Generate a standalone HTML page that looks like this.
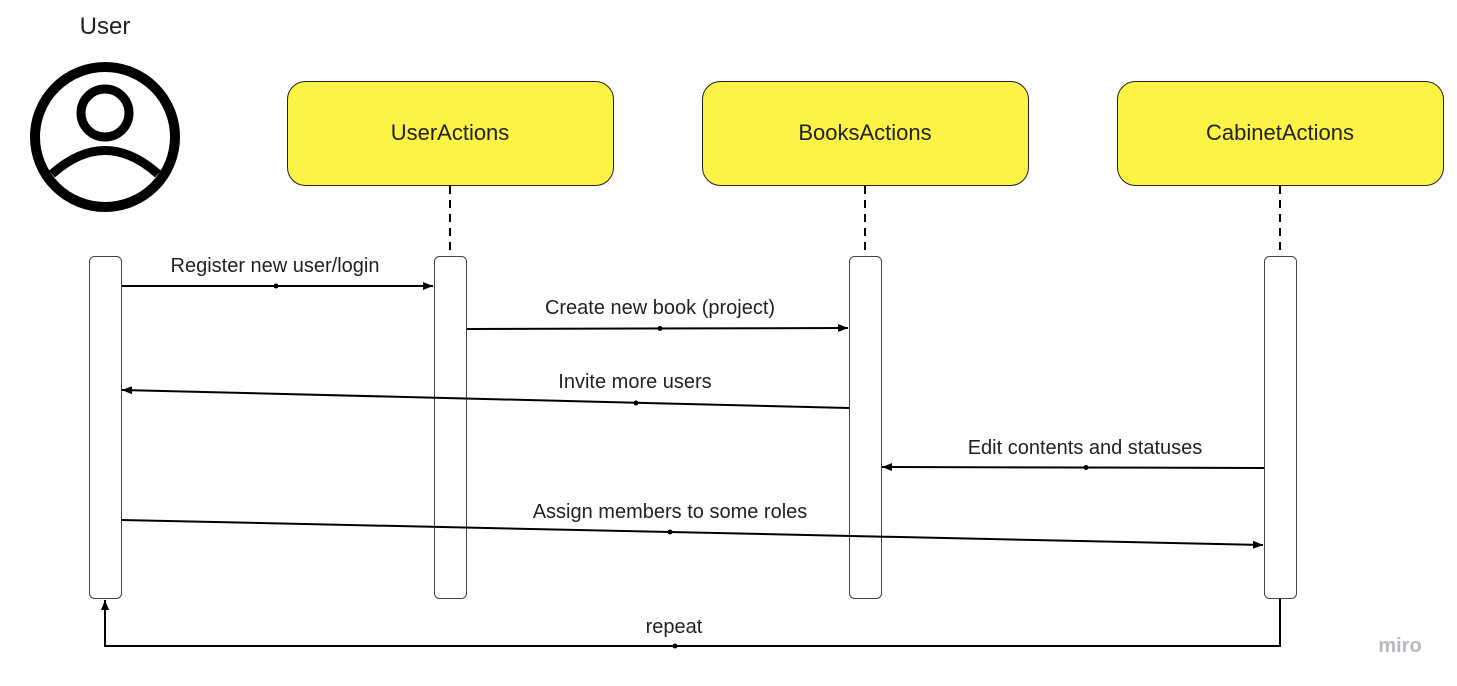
<!DOCTYPE html>
<html><head><meta charset="utf-8"><style>
html,body{margin:0;padding:0;background:#fff;}
svg{display:block;font-family:"Liberation Sans",sans-serif;}
</style></head><body>
<svg width="1457" height="686" viewBox="0 0 1457 686" xmlns="http://www.w3.org/2000/svg">
<defs>
<marker id="ah" viewBox="0 0 10 10" refX="10" refY="5" markerWidth="10" markerHeight="10" markerUnits="userSpaceOnUse" orient="auto">
<path d="M0,1 L10,5 L0,9 z" fill="#000"/>
</marker>
</defs>
<text x="105" y="34" font-size="24" text-anchor="middle" fill="#222">User</text>
<circle cx="105" cy="137" r="70" fill="none" stroke="#000" stroke-width="10"/>
<circle cx="105" cy="113" r="24" fill="none" stroke="#000" stroke-width="9"/>
<path d="M52,174 Q105,127 158,174" fill="none" stroke="#000" stroke-width="9"/>

<g fill="#fdf346" stroke="#222" stroke-width="1">
<rect x="287.5" y="81.5" width="326" height="104" rx="18"/>
<rect x="702.5" y="81.5" width="326" height="104" rx="18"/>
<rect x="1117.5" y="81.5" width="326" height="104" rx="18"/>
</g>
<g font-size="22" text-anchor="middle" fill="#222">
<text x="450" y="140">UserActions</text>
<text x="865" y="140">BooksActions</text>
<text x="1280" y="140">CabinetActions</text>
</g>
<g stroke="#000" stroke-width="2" stroke-dasharray="8,6">
<line x1="450" y1="186" x2="450" y2="250"/>
<line x1="865" y1="186" x2="865" y2="250"/>
<line x1="1280" y1="186" x2="1280" y2="250"/>
</g>
<g fill="#fff" stroke="#444" stroke-width="1">
<rect x="89.5" y="256.5" width="32" height="342" rx="5"/>
<rect x="434.5" y="256.5" width="32" height="342" rx="5"/>
<rect x="849.5" y="256.5" width="32" height="342" rx="5"/>
<rect x="1264.5" y="256.5" width="32" height="342" rx="5"/>
</g>
<g stroke="#000" stroke-width="2" fill="none" marker-end="url(#ah)">
<line x1="122" y1="286" x2="433" y2="286"/>
<line x1="467" y1="329" x2="848" y2="328"/>
<line x1="849" y1="408" x2="122" y2="390"/>
<line x1="1264" y1="468" x2="882" y2="467"/>
<line x1="122" y1="520" x2="1263" y2="545"/>
<path d="M1280,599 V646 H105 V600"/>
</g>
<g fill="#000">
<circle cx="276" cy="286" r="2.5"/>
<circle cx="660" cy="328.5" r="2.5"/>
<circle cx="636" cy="403" r="2.5"/>
<circle cx="1086" cy="467.5" r="2.5"/>
<circle cx="670" cy="532" r="2.5"/>
<circle cx="675" cy="646" r="2.5"/>
</g>
<g font-size="20" text-anchor="middle" fill="#222">
<text x="275" y="272">Register new user/login</text>
<text x="660" y="314">Create new book (project)</text>
<text x="635" y="388">Invite more users</text>
<text x="1085" y="454">Edit contents and statuses</text>
<text x="670" y="518">Assign members to some roles</text>
<text x="674" y="633">repeat</text>
</g>
<text x="1400" y="652" font-size="20" text-anchor="middle" fill="#b8b8c4" font-weight="bold">miro</text>
</svg>
</body></html>
